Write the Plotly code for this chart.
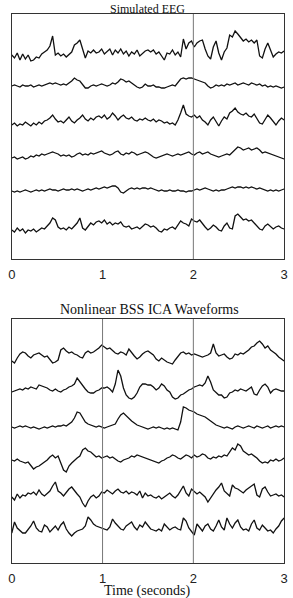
import numpy as np
import plotly.graph_objects as go

# ---- data: time base (seconds) ----
t = [round(i * 0.03, 2) for i in range(101)]
tick_vals = [0, 1, 2, 3]
tick_text = ["0", "1", "2", "3"]

# ---- Simulated EEG channels (amplitude, arbitrary units) ----
eeg1 = [0,-3,2,-5,1,-4,0,-6, -5,-2,-3,1,3,5, 9,19,0,2,-1,1,-2,1,3,10,12,15,6,-3,4,2,5,2,3,6,1,4,6,0,5,2,6,1,4,-1,3,1,5,-1,2,4,
        5,3,5,1,3,-1,-5,2,1,5,0,3,-2,16,6,12,14,8,12,14,15,6,-1,-4,8,14,2,-5,3,7,20,18,24,21,18,14,16,13,15,12,15,-1,-3,6,12,5,-2,1,3,2,4]
eeg2 = [0,1,0,-1,1,0,0,1,-1,0,1,0,1, 2,3,2,3,2, 1,2,1,3,5, 8,6,5, 1,-2,-2, 0,1,0,1,2, 1,0,1,3,2, 4,7,6,4, 5,3,1,-1, -2,-1,2,0,
        0,1,-1,-1,-2,-2, -1,0,1,0, 3,7,8,7,8,8, 7,6,5,4, 3,0,-2,-1, 1,0,1,0,2,1, 2,3,1,2,3,2,1,3,2,1, 2,0,1,-1,0,-1,0,-1,-2,-1]
eeg3 = [-3,-1,-4,-2,-3,0,-2, -4,-1,-3,0,-2,1,2, 4,7,3,0, 1,-1,2,5, 1,-1,2,4, 7,3,1,4, 2,5,6,4,7, 3,5,9,6, 2,5,7,4, 3,5,2,1, 3,2,4,2,
        1,3,0,2,1, -1,0,-2,-1,-3, 2,9,17, 8,6,5,7, 4,6,2,0,-3, 2,5,0,-4, 1,5,3, 9,11,14,10,8, 7,9,6,5, 8,4,-1,-2, 3,7,4,0, -3,1,4,2]
eeg4 = [-1,0,-2,-1,0, -2,-1,1,0,2, 1,3,2,3, 4,5,4,3, 1,2,1,2,0, 1,3,4,2,3, 2,4,3,4,5, 6,4,3,2,3, 5,6,3,2,4, 3,5,4,2,3, 4,5,4,2,0,
        -1,0,1,2,3, 2,1,2,3,2, 3,4,5,3,2, 4,5,3,4,5, 3,2,1,0,1, 2,3,2,5,8, 10,9,7,8,9, 7,8,9,7,4, 5,4,3,2,1, 0,-1,-2]
eeg5 = [-1,-2,-1,-2,-1,0,-1,-2,-1,0,-1, 0,-1,0,1,0,0,-1,0,1,0, 0,1,0,1,0,-1,0,1,0,1, 2,1,2,3,2,3,4,4,2,-2, -3,-1,1,2,1, 2,1,2,2,1,
        2,1,0,-1,0, -1,-1,0,-1,-1, 0,-1,-1,-2,-1, -1,0,1,0,1, 2,1,0,-1,0, -1,0,0,1,2, 3,2,3,3,2, 3,2,3,2,1, 2,1,0,-1,0, -1,0,-1,0,1]
eeg6 = [-2,-4,0,-3,-1,-5,-2,-3, -1,-4,-2,0,-1,2, 5,10,8,1, -1,0,-2,1, -1,2,5,10, 0,-2,2,5, 3,6,7,5,8, 4,6,3,5, 4,6,2,1, 2,-1,0,1,-1,
        2,4,3,1,2, 0,-3,-4,-1,-2, 0,1,-1,3,7, 5,4,2,9,7, 6,8,4,1,-2, 0,3,1,-2,-3, 2,5,0,-1,12, 14,11,8,9,7, 8,5,3,-1,-2, 2,4,1,-1,1, 2,0,-1]

# ---- Nonlinear BSS ICA waveforms ----
ica1 = [-6,-8,-3,1,3, 2,-1,-3,0,1, 2,0,-2,-1, -4,-8,-7,-5, 5,7,4,2, 3,1,0,-2, -3,2,4,2, 3,5,7,10,8, 6,7,4,2, 1,3,2,0, 6,2,-1,-4,-2,
        1,3,4,2,0, -4,-6,-3,-5,-7, -8,-9,-5,-1,2, 3,1,2,0,1, 0,-1,-2,-1,0, 2,11,2,-1,0, 1,-2,-4,-3,1, 0,2,1,3,5, 8,9,12,14,11, 7,9,5,3,1, -2,-4,-6]
ica2 = [-2,-1,0,1,0, 2,1,3,2,1, 5,4,3,2, 0,-1,1,-1, -2,0,1,3, 4,6,12,8, 4,1,-2,-3, -3,-1,0,2,2, 3,1,-2,6, 20,14,2,-5, -8,-9,-7,-3,3,
        6,6,5,5,3, 0,2,6,4,0, -2,-7,-9,-8,-5, -4,-2,0,1,3, 4,5,4,7,14, 8,0,-3,-5,-5, -8,-7,-3,-2,0, -1,1,0,-1,1, 3,-4,-5,0,4, 6,3,-3,0,1, 0,-1,-1]
ica3 = [0,-1,0,1,0, 1,0,-1,0,-1, -2,-1,0,-1, 0,1,0,1, 1,2,1,3, 5,9,15,14, 9,5,3,2, 1,0,1,0,-1, 0,1,2,3, 8,12,14,11, 8,6,4,2,1,
        0,-1,-2,-1,0, -1,0,-1,-2,-1, -2,-1,-2,-3,5, 20,19,17,16,15, 13,12,11,10,8, 6,4,2,1,0, -1,0,-1,-2,0, 1,0,-1,0,1, 0,-1,1,0,-1, 0,1,-1,0,1, 0,1,0]
ica4 = [0,-1,1,-1,-2, -3,-2,-5,-9,-7, -6,-4,-2,0, 3,5,2,4, -3,-10,-12,-6, -3,0,2,4, 10,12,9,8, 5,3,4,2,3, 4,2,3,1, -1,-2,0,1, 2,4,3,5,4,
        3,2,1,0,-1, -2,-3,-1,0,2, 3,5,4,2,1, 3,5,4,2,5, 3,4,6,5,2, 1,3,2,4,3, 5,4,8,12,10, 16,14,9,7,5, 6,4,2,-1,-3, -2,-3,0,-1,1, -1,0,2]
ica5 = [-2,-5,1,-3,0, -1,2,1,3,0, 5,1,-1,2, 4,9,13,4, 2,-1,3,6, 8,4,1,-2, -8,-12,-6,-2, 0,-3,-1,3,2, 5,3,1,4, 6,3,2,4, 1,3,2,0,4,
        -3,2,-1,0,-2, -3,-1,-4,-2,0, 2,-1,-3,0,4, 9,2,-1,6,3, 1,3,0,-2,-7, -3,2,5,8,12, 4,1,-1,10,7, 6,4,2,5,7, 9,11,0,-2,6, 8,3,-1,0,1, -1,0,-2]
ica6 = [-3,8,2,-1,-3, -3,0,4,9,2, -1,-2,5,3, -2,1,4,0, 5,8,1,-3, -6,-3,-1,0, 1,4,13,10, 6,4,3,2,1, 0,3,11,7, 4,1,0,4, 6,8,3,0,5,
        3,8,4,1,0, -1,1,-1,6,3, 0,2,3,1,0, 12,9,2,-2,-5, 6,3,-1,4,6, 1,-1,4,10,3, 0,12,6,2,7, 10,3,0,1,-1, 6,10,2,0,5, 2,-1,0,-3,1, 4,9,12]

eeg_channels = [eeg1, eeg2, eeg3, eeg4, eeg5, eeg6]
ica_channels = [ica1, ica2, ica3, ica4, ica5, ica6]

# ---- layout constants (positions / styles) ----
W, H = 293, 598
top_offsets = [204, 173, 137, 102, 69, 31]
bot_offsets = [208, 173, 136, 103, 68, 33]
top_markers = [2.0]
bot_markers = [1.0, 2.0]

def py(px):
    return 1 - px / H

fig = go.Figure()
for ch, off in zip(eeg_channels, top_offsets):
    fig.add_trace(go.Scatter(x=t, y=[v + off for v in ch], mode="lines",
                             line=dict(color="#111111", width=1.3),
                             xaxis="x", yaxis="y", showlegend=False, hoverinfo="skip"))
for ch, off in zip(ica_channels, bot_offsets):
    fig.add_trace(go.Scatter(x=t, y=[v + off for v in ch], mode="lines",
                             line=dict(color="#111111", width=1.3),
                             xaxis="x2", yaxis="y2", showlegend=False, hoverinfo="skip"))

axis_common = dict(range=[0, 3], showgrid=False, zeroline=False, showline=True, mirror=True,
                   linecolor="#333333", linewidth=1.2, tickvals=tick_vals, ticktext=tick_text,
                   ticks="outside", ticklen=3, tickcolor="rgba(0,0,0,0)",
                   tickfont=dict(family="Liberation Sans", size=13, color="#222"))
yaxis_common = dict(showgrid=False, zeroline=False, showline=True, mirror=True,
                    linecolor="#333333", linewidth=1.2, showticklabels=False, ticks="")

fig.update_layout(
    width=W, height=H, margin=dict(l=0, r=0, t=0, b=0),
    paper_bgcolor="white", plot_bgcolor="white",
    xaxis=dict(domain=[8 / W, 288 / W], anchor="y", **axis_common),
    yaxis=dict(domain=[py(259), py(14)], range=[0, 245], anchor="x", **yaxis_common),
    xaxis2=dict(domain=[8 / W, 288 / W], anchor="y2", **axis_common),
    yaxis2=dict(domain=[py(563), py(319)], range=[0, 244], anchor="x2", **yaxis_common),
)

shapes = []
for m in top_markers:
    shapes.append(dict(type="line", xref="x", yref="y domain", x0=m, x1=m, y0=0, y1=1,
                       line=dict(color="#777777", width=1)))
for m in bot_markers:
    shapes.append(dict(type="line", xref="x2", yref="y2 domain", x0=m, x1=m, y0=0, y1=1,
                       line=dict(color="#777777", width=1)))
fig.update_layout(shapes=shapes)

title_font = dict(family="Liberation Serif", size=14, color="#111")
fig.add_annotation(text="Simulated EEG", xref="paper", yref="paper", x=148 / W, y=py(0.5),
                   showarrow=False, font=dict(family="Liberation Serif", size=12, color="#111"),
                   borderpad=0, xanchor="center", yanchor="top")
fig.add_annotation(text="Nonlinear BSS ICA Waveforms", xref="paper", yref="paper", x=150 / W, y=py(309),
                   showarrow=False, font=title_font, xanchor="center", yanchor="middle")
fig.add_annotation(text="Time (seconds)", xref="paper", yref="paper", x=148 / W, y=py(591),
                   showarrow=False, font=title_font, xanchor="center", yanchor="middle")

fig.write_html("out.html")
